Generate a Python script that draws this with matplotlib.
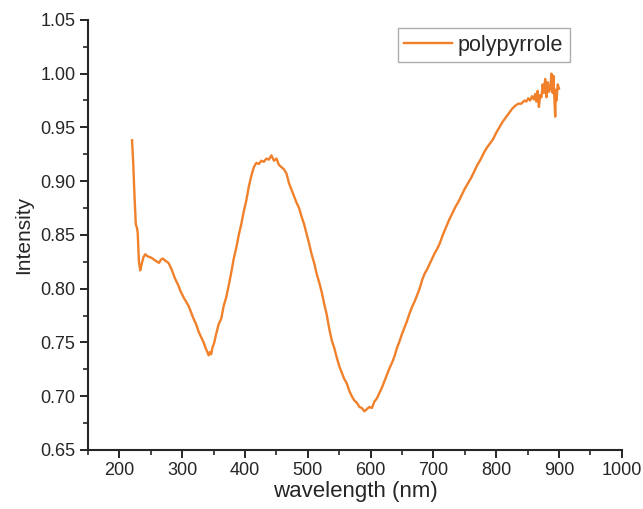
import matplotlib
matplotlib.use('Agg')
import matplotlib.pyplot as plt
from matplotlib.ticker import MultipleLocator, FormatStrFormatter

wavelength = [220, 222, 224, 226, 228, 229, 231, 233, 235, 238, 241, 245, 250,
              255, 260, 263, 266, 269, 273, 278, 283, 288, 293, 297, 302, 306,
              310, 314, 318, 322, 326, 330, 334, 337, 340, 342, 344, 346, 348,
              351, 354, 358, 362, 366, 370, 374, 378, 382, 386, 390, 394, 398,
              402, 406, 410, 414, 418, 422, 426, 430, 434, 438, 442, 446, 450,
              454, 458, 462, 466, 470, 474, 478, 482, 486, 490, 494, 498, 502,
              506, 510, 514, 518, 522, 526, 530, 534, 538, 542, 546, 550, 554,
              558, 562, 566, 570, 574, 578, 582, 586, 590, 594, 598, 602, 606,
              610, 614, 618, 622, 626, 630, 634, 638, 642, 646, 650, 654, 658,
              662, 666, 670, 674, 678, 682, 686, 690, 694, 698, 702, 706, 710,
              715, 720, 725, 730, 735, 740, 745, 750, 755, 760, 765, 770, 775,
              780, 785, 790, 795, 800, 805, 810, 815, 820, 825, 830, 835, 840,
              845, 848, 851, 854, 857, 860, 862, 864, 866, 868, 870, 872, 874,
              876, 878, 880, 882, 884, 886, 888, 890, 891, 893, 894, 895, 896,
              898, 900]
intensity = [0.938, 0.915, 0.885, 0.860, 0.856, 0.852, 0.825, 0.817, 0.822,
             0.829, 0.832, 0.830, 0.829, 0.827, 0.825, 0.824, 0.827, 0.828,
             0.826, 0.824, 0.818, 0.810, 0.804, 0.798, 0.792, 0.788, 0.784,
             0.778, 0.772, 0.767, 0.760, 0.755, 0.750, 0.745, 0.741, 0.738,
             0.741, 0.739, 0.745, 0.750, 0.758, 0.767, 0.772, 0.784, 0.792,
             0.803, 0.815, 0.828, 0.838, 0.850, 0.860, 0.872, 0.882, 0.895,
             0.905, 0.913, 0.917, 0.916, 0.919, 0.918, 0.921, 0.920, 0.924,
             0.919, 0.921, 0.915, 0.913, 0.911, 0.907, 0.898, 0.892, 0.886,
             0.880, 0.875, 0.867, 0.860, 0.851, 0.842, 0.832, 0.824, 0.814,
             0.806, 0.797, 0.786, 0.776, 0.763, 0.752, 0.745, 0.736, 0.728,
             0.722, 0.716, 0.712, 0.705, 0.700, 0.696, 0.694, 0.690, 0.689,
             0.686, 0.688, 0.690, 0.689, 0.695, 0.698, 0.703, 0.708, 0.714,
             0.720, 0.726, 0.731, 0.737, 0.745, 0.751, 0.758, 0.764, 0.770,
             0.777, 0.783, 0.788, 0.794, 0.800, 0.808, 0.814, 0.818, 0.823,
             0.828, 0.833, 0.837, 0.842, 0.850, 0.857, 0.864, 0.870, 0.876,
             0.881, 0.887, 0.893, 0.898, 0.903, 0.909, 0.915, 0.920, 0.926,
             0.931, 0.935, 0.939, 0.945, 0.950, 0.955, 0.959, 0.963, 0.967,
             0.970, 0.972, 0.972, 0.975, 0.974, 0.977, 0.975, 0.979, 0.976,
             0.981, 0.974, 0.984, 0.969, 0.980, 0.978, 0.990, 0.982, 0.995,
             0.978, 0.992, 0.983, 0.986, 1.000, 0.982, 0.998, 0.972, 0.960,
             0.985, 0.975, 0.990, 0.986]

plt.rcParams['font.family'] = ['Liberation Sans', 'DejaVu Sans']
text_color = '#262626'

fig = plt.figure(figsize=(6.43, 5.09), dpi=100)
ax = fig.add_axes([0.137, 0.116, 0.830, 0.845])

ax.plot(wavelength, intensity, color='#F0802A', linewidth=1.7,
        label='polypyrrole')

ax.set_xlim(150, 1000)
ax.set_ylim(0.65, 1.05)
ax.xaxis.set_major_locator(MultipleLocator(100))
ax.xaxis.set_minor_locator(MultipleLocator(50))
ax.yaxis.set_major_locator(MultipleLocator(0.05))
ax.yaxis.set_minor_locator(MultipleLocator(0.025))
ax.yaxis.set_major_formatter(FormatStrFormatter('%.2f'))

# Solo ejes izquierdo e inferior
ax.spines['top'].set_visible(False)
ax.spines['right'].set_visible(False)
for s in ('left', 'bottom'):
    ax.spines[s].set_linewidth(1.5)
    ax.spines[s].set_color(text_color)
ax.tick_params(which='major', direction='out', length=6, width=1.4,
               labelsize=13, colors=text_color, pad=3)
ax.tick_params(which='minor', direction='out', length=3.5, width=1.2,
               colors=text_color)

ax.set_xlabel('wavelength (nm)', fontsize=16, color=text_color, labelpad=1)
ax.set_ylabel('Intensity', fontsize=15, color=text_color, labelpad=5)

leg = ax.legend(loc='upper left', bbox_to_anchor=(0.568, 0.995),
                fontsize=15.5, fancybox=False, frameon=True,
                handlelength=2.2, borderpad=0.3, handletextpad=0.3,
                borderaxespad=0.3)
leg.get_frame().set_edgecolor('#999999')
leg.get_frame().set_linewidth(1.0)
for t in leg.get_texts():
    t.set_color(text_color)

fig.savefig('out.png', dpi=100)
